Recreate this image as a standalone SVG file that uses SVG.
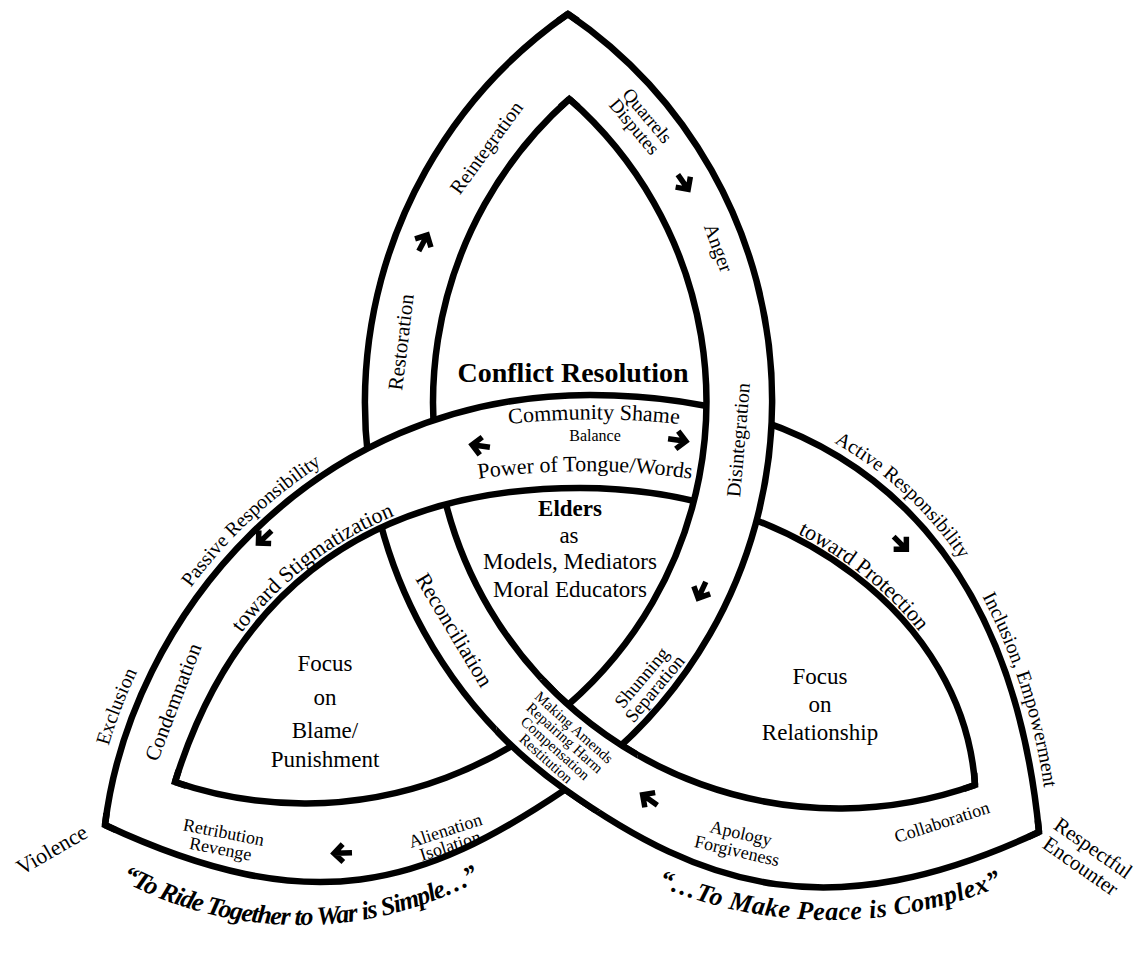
<svg xmlns="http://www.w3.org/2000/svg" width="1144" height="953" viewBox="0 0 1144 953">
<style>
.band{fill:#fff;stroke:none}
.edge{fill:none;stroke:#000;stroke-width:6.5}
.cap{fill:none;stroke:#000;stroke-width:6.5;stroke-linejoin:miter;stroke-miterlimit:10}
.arw{fill:none;stroke:#000;stroke-width:5.5;stroke-linejoin:miter;stroke-linecap:butt}
text{font-family:"Liberation Serif","Times New Roman",serif;fill:#000}
.m{text-anchor:middle}
.q{font-size:26px;font-weight:bold;font-style:italic}
</style>
<defs>
<path id="arrow" d="M-9,0 H9 M0,-9 L9,0 L0,9"/>
<clipPath id="xclip"><circle cx="566" cy="747" r="72"/></clipPath>
<path id="tp-passive" d="M159.2,636.8 Q229.05,513.4 361.9,440.4"/>
<path id="tp-stig" d="M223.2,660.3 Q290.9,549.4 425.4,504.1"/>
<path id="tp-active" d="M805.2,427.7 Q927.6,484.8 990,610.3"/>
<path id="tp-prot" d="M786.3,527.9 Q890.5,578.2 943.2,666.6"/>
<path id="tp-incl" d="M973.5,580.2 Q1033.75,688.1 1046.2,806"/>
<path id="tp-excl" d="M101.4,772.5 Q116.55,708.3 149.9,647.3"/>
<path id="tp-comm" d="M484,427 A800,800 0 0 1 704,427"/>
<path id="tp-power" d="M470,480 A760,760 0 0 1 700,480"/>
<path id="tp-q1" d="M82,856.3 A380,380 0 0 0 518,856.3"/>
<path id="tp-q2" d="M605,859.7 A450,450 0 0 0 1055,859.7"/>
</defs>
<rect width="1144" height="953" fill="#fff"/>
<g id="knot">
<g id="band-a">
<path class="band" d="M567.9,14 A473.8,473.8 0 0 0 565.1,789.6 C703.8,887.9 830.6,929.3 1039,832 L975,785 A406,406 0 0 1 569.3,99 Z"/>
<path class="edge" d="M567.9,14 A473.8,473.8 0 0 0 565.1,789.6 C703.8,887.9 830.6,929.3 1039,832 M569.3,99 A406,406 0 0 0 975,785"/>
</g>
<g id="band-c">
<path class="band" d="M105,825 C130,620 310,395 590,395 C860,395 1011.8,553.4 1039,832 L975,785 C964.1,620.3 795,488 580,488 C350,488 228.3,610.1 175,782 Z"/>
<path class="edge" d="M105,825 C130,620 310,395 590,395 C860,395 1011.8,553.4 1039,832 M175,782 C228.3,610.1 350,488 580,488 C795,488 964.1,620.3 975,785"/>
</g>
<g id="band-b">
<path class="band" d="M567.9,14 A468.5,468.5 0 0 1 565.1,789.6 C424,884.5 313.4,922.5 105,825 L175,782 A402,402 0 0 0 569.3,99 Z"/>
<path class="edge" d="M567.9,14 A468.5,468.5 0 0 1 565.1,789.6 C424,884.5 313.4,922.5 105,825 M569.3,99 A402,402 0 0 1 175,782"/>
</g>
<use id="band-a-over" href="#band-a" clip-path="url(#xclip)"/>
<g id="corners">
<path class="cap" d="M558.1,20.9 L567.9,14 L577.8,20.8"/>
<path class="cap" d="M560.3,107 L569.3,99 L578.3,106.9"/>
<path class="cap" d="M1028.1,837.1 L1039,832 L1037.8,820.1"/>
<path class="cap" d="M963.7,789 L975,785 L974.2,773"/>
<path class="cap" d="M115.9,830.1 L105,825 L106.5,813.1"/>
<path class="cap" d="M186.4,785.8 L175,782 L178.6,770.5"/>
</g>
</g>
<g id="arrows" class="arw">
<use href="#arrow" transform="translate(423,243) rotate(-62)"/>
<use href="#arrow" transform="translate(683,182) rotate(55)"/>
<use href="#arrow" transform="translate(481,446) rotate(188)"/>
<use href="#arrow" transform="translate(677,440) rotate(8)"/>
<use href="#arrow" transform="translate(702,590) rotate(115)"/>
<use href="#arrow" transform="translate(265,537) rotate(137)"/>
<use href="#arrow" transform="translate(900,543) rotate(45)"/>
<use href="#arrow" transform="translate(650,800) rotate(215)"/>
<use href="#arrow" transform="translate(343,853) rotate(178)"/>
</g>
<g id="center-labels">
<text class="m" x="573" y="382" font-size="28" font-weight="bold">Conflict Resolution</text>
<text font-size="22"><textPath href="#tp-comm" startOffset="50%" text-anchor="middle">Community Shame</textPath></text>
<text class="m" x="595" y="441" font-size="16">Balance</text>
<text font-size="22"><textPath href="#tp-power" startOffset="50%" text-anchor="middle">Power of Tongue/Words</textPath></text>
<text class="m" x="570" y="516" font-size="23" font-weight="bold">Elders</text>
<text class="m" x="569" y="543" font-size="23">as</text>
<text class="m" x="570" y="569" font-size="23">Models, Mediators</text>
<text class="m" x="570" y="597" font-size="23">Moral Educators</text>
</g>
<g id="lobe-left-labels">
<text class="m" x="325" y="671" font-size="23">Focus</text>
<text class="m" x="325" y="705" font-size="23">on</text>
<text class="m" x="325" y="738" font-size="23">Blame/</text>
<text class="m" x="325" y="767" font-size="23">Punishment</text>
</g>
<g id="lobe-right-labels">
<text class="m" x="820" y="684" font-size="23">Focus</text>
<text class="m" x="820" y="712" font-size="23">on</text>
<text class="m" x="820" y="740" font-size="23">Relationship</text>
</g>
<g id="band-labels">
<g transform="translate(641,121) rotate(50)" font-size="19"><text class="m" y="-2">Quarrels</text><text class="m" y="15">Disputes</text></g>
<text class="m" font-size="20" transform="translate(487,148) rotate(-54)" y="6">Reintegration</text>
<text class="m" font-size="20" transform="translate(718,248) rotate(70)" y="6">Anger</text>
<text class="m" font-size="21" transform="translate(401,342) rotate(-83)" y="7">Restoration</text>
<text class="m" font-size="20" transform="translate(739,440) rotate(-85)" y="6">Disintegration</text>
<text class="m" font-size="22" transform="translate(454,630) rotate(59)" y="7">Reconciliation</text>
<g transform="translate(560,743) rotate(42)" font-size="15"><text class="m" y="-16">Making Amends</text><text class="m" y="-2">Repairing Harm</text><text class="m" y="12">Compensation</text><text class="m" y="26">Restitution</text></g>
<g transform="translate(648,683) rotate(-50)" font-size="19"><text class="m" y="-2">Shunning</text><text class="m" y="15">Separation</text></g>
<text class="m" font-size="21" transform="translate(173,702) rotate(-69)" y="7">Condemnation</text>
<g transform="translate(222,841) rotate(11)" font-size="18"><text class="m" y="-3">Retribution</text><text class="m" y="14">Revenge</text></g>
<g transform="translate(448,839) rotate(-18)" font-size="18"><text class="m" y="-3">Alienation</text><text class="m" y="13">Isolation</text></g>
<g transform="translate(739,842) rotate(13)" font-size="18"><text class="m" y="-3">Apology</text><text class="m" y="15">Forgiveness</text></g>
<text class="m" font-size="18" transform="translate(942,822) rotate(-18)" y="6">Collaboration</text>
<text font-size="22"><textPath href="#tp-stig" startOffset="50%" text-anchor="middle">toward Stigmatization</textPath></text>
<text font-size="22"><textPath href="#tp-prot" startOffset="43%" text-anchor="middle">toward Protection</textPath></text>
</g>
<g id="outer-labels">
<text font-size="20"><textPath href="#tp-passive" startOffset="52%" text-anchor="middle">Passive Responsibility</textPath></text>
<text font-size="20"><textPath href="#tp-active" startOffset="45%" text-anchor="middle">Active Responsibility</textPath></text>
<text font-size="20"><textPath href="#tp-incl" startOffset="50%" text-anchor="middle">Inclusion, Empowerment</textPath></text>
<text font-size="20"><textPath href="#tp-excl" startOffset="50%" text-anchor="middle">Exclusion</textPath></text>
<text class="m" font-size="22" transform="translate(52,850) rotate(-30)" y="7">Violence</text>
<g transform="translate(1087,857) rotate(35)" font-size="21"><text class="m" y="-4">Respectful</text><text class="m" y="18">Encounter</text></g>
<text class="q" letter-spacing="-1.2"><textPath href="#tp-q1" startOffset="50%" text-anchor="middle">“To Ride Together to War is Simple…”</textPath></text>
<text class="q" letter-spacing="0.5"><textPath href="#tp-q2" startOffset="50%" text-anchor="middle">“…To Make Peace is Complex”</textPath></text>
</g>
</svg>
